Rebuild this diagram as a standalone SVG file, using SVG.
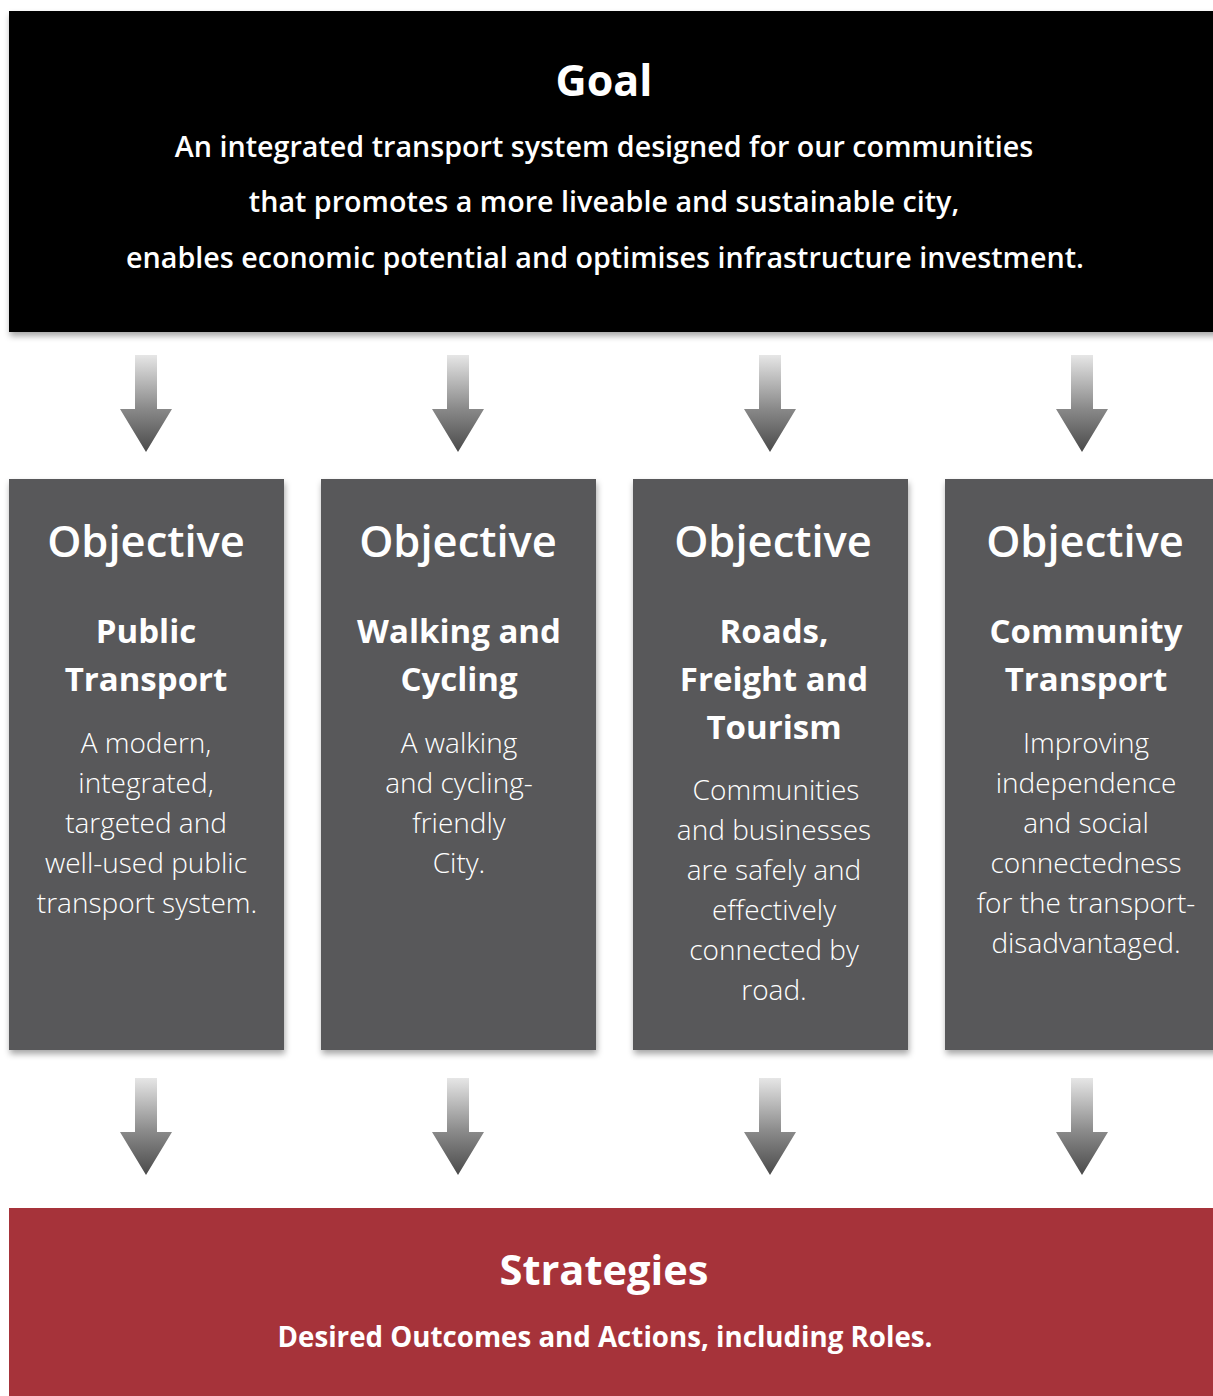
<svg xmlns="http://www.w3.org/2000/svg" width="1213" height="1396" viewBox="0 0 1213 1396">
  <defs>
    <filter id="shadow" x="-5%" y="-5%" width="110%" height="115%">
      <feDropShadow dx="1" dy="4" stdDeviation="3" flood-color="#000" flood-opacity="0.35"/>
    </filter>
    <linearGradient id="arrowFill" x1="0" y1="0" x2="0" y2="1">
      <stop offset="0" stop-color="#e6e6e6"/>
      <stop offset="0.55" stop-color="#8a8a8a"/>
      <stop offset="1" stop-color="#4a4a4a"/>
    </linearGradient>
    <!-- down arrow, tip at (0,97) -->
    <polygon id="downArrow" points="-11,0 11,0 11,54 26,54 0,97 -26,54 -11,54" fill="url(#arrowFill)"/>
  </defs>
  <style>
    text { font-family: "Open Sans", "Noto Sans", "Liberation Sans", sans-serif; fill: #fff; text-anchor: middle; }
    .goalTitle { font-size: 43px; font-weight: 700; }
    .goalLine { font-size: 28.7px; font-weight: 600; }
    .objTitle { font-size: 43.5px; font-weight: 600; }
    .objSub { font-size: 33px; font-weight: 700; }
    .objBody { font-size: 28px; font-weight: 300; }
    .stratTitle { font-size: 41.6px; font-weight: 700; }
    .stratLine { font-size: 27.7px; font-weight: 700; }
    .obj { fill: #58585a; }
  </style>
  <rect width="1213" height="1396" fill="#fff"/>

  <g id="goal">
    <rect x="9" y="11" width="1210" height="321" fill="#000" filter="url(#shadow)"/>
    <text class="goalTitle" x="604" y="96">Goal</text>
    <text class="goalLine" x="604" y="157">An integrated transport system designed for our communities</text>
    <text class="goalLine" x="604" y="212">that promotes a more liveable and sustainable city,</text>
    <text class="goalLine" x="605" y="268">enables economic potential and optimises infrastructure investment.</text>
  </g>

  <g id="connectors">
    <use href="#downArrow" x="146" y="355"/>
    <use href="#downArrow" x="458" y="355"/>
    <use href="#downArrow" x="770" y="355"/>
    <use href="#downArrow" x="1082" y="355"/>
    <use href="#downArrow" x="146" y="1078"/>
    <use href="#downArrow" x="458" y="1078"/>
    <use href="#downArrow" x="770" y="1078"/>
    <use href="#downArrow" x="1082" y="1078"/>
  </g>

  <g id="objective-public-transport">
    <rect class="obj" x="9" y="479" width="275" height="571" filter="url(#shadow)"/>
    <text class="objTitle" x="146" y="557">Objective</text>
    <text class="objSub" x="146" y="643">Public</text>
    <text class="objSub" x="146" y="691">Transport</text>
    <text class="objBody" x="146" y="753">A modern,</text>
    <text class="objBody" x="146" y="793">integrated,</text>
    <text class="objBody" x="146" y="833">targeted and</text>
    <text class="objBody" x="146" y="873">well-used public</text>
    <text class="objBody" x="147" y="913">transport system.</text>
  </g>

  <g id="objective-walking-cycling">
    <rect class="obj" x="321" y="479" width="275" height="571" filter="url(#shadow)"/>
    <text class="objTitle" x="458" y="557">Objective</text>
    <text class="objSub" x="459" y="643">Walking and</text>
    <text class="objSub" x="459" y="691">Cycling</text>
    <text class="objBody" x="459" y="753">A walking</text>
    <text class="objBody" x="459" y="793">and cycling-</text>
    <text class="objBody" x="459" y="833">friendly</text>
    <text class="objBody" x="459" y="873">City.</text>
  </g>

  <g id="objective-roads-freight-tourism">
    <rect class="obj" x="633" y="479" width="275" height="571" filter="url(#shadow)"/>
    <text class="objTitle" x="773" y="557">Objective</text>
    <text class="objSub" x="774" y="643">Roads,</text>
    <text class="objSub" x="774" y="691">Freight and</text>
    <text class="objSub" x="774" y="739">Tourism</text>
    <text class="objBody" x="776" y="800">Communities</text>
    <text class="objBody" x="774" y="840">and businesses</text>
    <text class="objBody" x="774" y="880">are safely and</text>
    <text class="objBody" x="774" y="920">effectively</text>
    <text class="objBody" x="774" y="960">connected by</text>
    <text class="objBody" x="774" y="1000">road.</text>
  </g>

  <g id="objective-community-transport">
    <rect class="obj" x="945" y="479" width="275" height="571" filter="url(#shadow)"/>
    <text class="objTitle" x="1085" y="557">Objective</text>
    <text class="objSub" x="1086" y="643">Community</text>
    <text class="objSub" x="1086" y="691">Transport</text>
    <text class="objBody" x="1086" y="753">Improving</text>
    <text class="objBody" x="1086" y="793">independence</text>
    <text class="objBody" x="1086" y="833">and social</text>
    <text class="objBody" x="1086" y="873">connectedness</text>
    <text class="objBody" x="1086" y="913">for the transport-</text>
    <text class="objBody" x="1086" y="953">disadvantaged.</text>
  </g>

  <g id="strategies">
    <rect x="9" y="1208" width="1210" height="200" fill="#a6333a"/>
    <text class="stratTitle" x="604" y="1285">Strategies</text>
    <text class="stratLine" x="605" y="1347">Desired Outcomes and Actions, including Roles.</text>
  </g>
</svg>
